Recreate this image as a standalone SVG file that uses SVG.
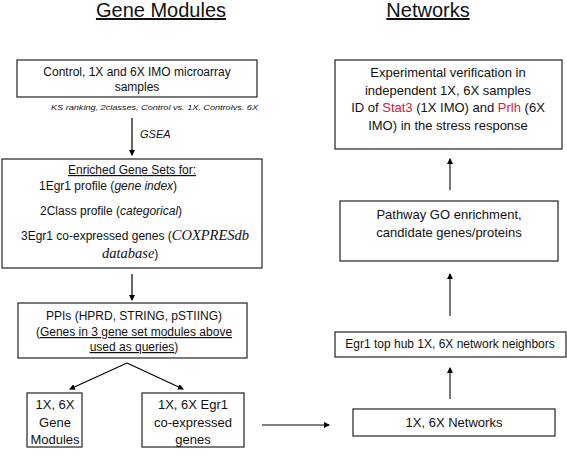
<svg xmlns="http://www.w3.org/2000/svg" width="567" height="458" viewBox="0 0 567 458">
<defs>
<marker id="ah" markerWidth="6" markerHeight="6" refX="5" refY="3" orient="auto" markerUnits="userSpaceOnUse"><path d="M0,0 L6,3 L0,6 Z" fill="#000"/></marker>
<marker id="ahg" markerWidth="6" markerHeight="6" refX="5" refY="3" orient="auto" markerUnits="userSpaceOnUse"><path d="M0,0 L6,3 L0,6 Z" fill="#000"/></marker>
<style>
text{font-family:"Liberation Sans",Arial,sans-serif;fill:#111}
.title{font-size:20px;text-anchor:middle;text-decoration:underline}
.box{fill:#fff;stroke:#222;stroke-width:1.2}
.t12{font-size:12px}
.t13{font-size:13px;text-anchor:middle}
.c{text-anchor:middle}
.it{font-style:italic}
.tm{font-family:"Liberation Serif","Times New Roman",serif;font-style:italic;font-size:14.5px}
.red{fill:#d2203c}
.ln{stroke:#000;stroke-width:1.2;fill:none}
.lng{stroke:#777;stroke-width:2;fill:none}
</style>
</defs>
<rect width="567" height="458" fill="#fff"/>
<text class="title" x="161" y="17">Gene Modules</text>
<text class="title" x="428" y="17">Networks</text>

<g id="n1">
<rect class="box" x="17" y="60" width="240" height="37"/>
<text class="t12 c" x="137" y="76">Control, 1X and 6X IMO microarray</text>
<text class="t12 c" x="137" y="91">samples</text>
</g>
<text class="it" x="51" y="110" font-size="8" textLength="207" lengthAdjust="spacingAndGlyphs">KS ranking, 2classes, Control vs. 1X, Controlvs. 6X</text>
<text class="it" x="140" y="138" font-size="11">GSEA</text>

<g id="n2">
<rect class="box" x="2" y="159" width="260" height="109"/>
<text class="t12 c" x="132" y="174" text-decoration="underline">Enriched Gene Sets for:</text>
<text class="t12" x="39" y="190">1Egr1 profile (<tspan class="it">gene index</tspan>)</text>
<text class="t12" x="40" y="215">2Class profile (<tspan class="it">categorical</tspan>)</text>
<text class="t12" x="21" y="240">3Egr1 co-expressed genes (<tspan class="tm">COXPRESdb</tspan></text>
<text class="t12" x="102" y="258"><tspan class="tm">database</tspan>)</text>
</g>

<g id="n3">
<rect class="box" x="18" y="303" width="229" height="55"/>
<text class="t12 c" x="134" y="320">PPIs (HPRD, STRING, pSTIING)</text>
<text class="t12 c" x="134" y="336">(<tspan text-decoration="underline">Genes in 3 gene set modules above</tspan></text>
<text class="t12 c" x="134" y="351"><tspan text-decoration="underline">used as queries</tspan>)</text>
</g>

<g id="n4">
<rect class="box" x="27" y="393" width="55" height="54"/>
<text class="t13" x="55" y="409">1X, 6X</text>
<text class="t13" x="55" y="427">Gene</text>
<text class="t13" x="55" y="444">Modules</text>
</g>

<g id="n5">
<rect class="box" x="142" y="393" width="102" height="54"/>
<text class="t13" x="193" y="409">1X, 6X Egr1</text>
<text class="t13" x="193" y="427">co-expressed</text>
<text class="t13" x="193" y="444">genes</text>
</g>

<g id="n6">
<rect class="box" x="353" y="409" width="202" height="27"/>
<text class="t13" x="454" y="427">1X, 6X Networks</text>
</g>

<g id="n7">
<rect class="box" x="335" y="332" width="231" height="25"/>
<text class="t12 c" x="450" y="348">Egr1 top hub 1X, 6X network neighbors</text>
</g>

<g id="n8">
<rect class="box" x="340" y="201" width="218" height="60"/>
<text class="t13" x="449" y="219">Pathway GO enrichment,</text>
<text class="t13" x="449" y="237">candidate genes/proteins</text>
</g>

<g id="n9">
<rect class="box" x="335" y="60" width="227" height="89"/>
<text class="t13" x="448" y="77" font-size="13.5">Experimental verification in</text>
<text class="t13" x="448" y="95" font-size="13.5">independent  1X, 6X samples</text>
<text class="t13" x="448" y="112" font-size="13.5">ID of <tspan class="red">Stat3</tspan> (1X IMO) and <tspan class="red">Prlh</tspan> (6X</text>
<text class="t13" x="448" y="130" font-size="13.5">IMO) in the stress response</text>
</g>

<g id="connectors">
<line class="ln" x1="132" y1="118" x2="132" y2="155" marker-end="url(#ah)"/>
<line class="ln" x1="132" y1="274" x2="132" y2="300" marker-end="url(#ah)"/>
<line class="ln" x1="127" y1="363" x2="70" y2="389" marker-end="url(#ah)"/>
<line class="ln" x1="127" y1="363" x2="183" y2="389" marker-end="url(#ah)"/>
<line class="ln" x1="262" y1="425" x2="329" y2="425" marker-end="url(#ah)"/>
<line class="lng" x1="450" y1="399" x2="450" y2="368" marker-end="url(#ahg)"/>
<line class="lng" x1="450" y1="316" x2="450" y2="274" marker-end="url(#ahg)"/>
<line class="lng" x1="450" y1="190" x2="450" y2="159" marker-end="url(#ahg)"/>
</g>
</svg>
